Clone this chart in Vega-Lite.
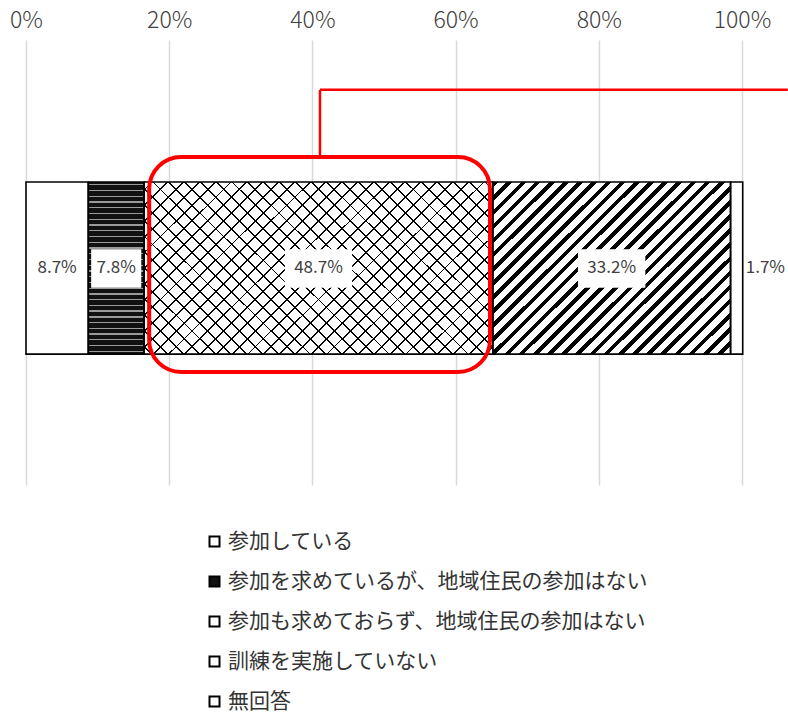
{
  "$schema": "https://vega.github.io/schema/vega-lite/v6.json",
  "width": 716,
  "height": 445,
  "autosize": {"type": "none"},
  "padding": {"left": 26, "top": 40, "right": 46, "bottom": 227},
  "background": "white",
  "config": {
    "view": {"stroke": null},
    "font": "Noto Sans CJK JP",
    "axisX": {"domain": false, "ticks": false, "grid": true, "gridColor": "#d9d9d9", "gridWidth": 1.5, "labelFontSize": 23, "labelColor": "#404040", "labelPadding": 8, "labelFlush": false, "labelFont": "Noto Sans CJK JP", "labelFontWeight": 300},
    "legend": {"symbolType": "square", "symbolSize": 100, "symbolStrokeColor": "black", "symbolStrokeWidth": 2, "labelFontSize": 21, "labelFont": "Noto Sans CJK JP", "labelColor": "#333333", "labelLimit": 0, "rowPadding": 18, "labelOffset": 3, "padding": 0}
  },
  "data": {"values": [
    {"cat": "参加している", "value": 8.7, "order": 1},
    {"cat": "参加を求めているが、地域住民の参加はない", "value": 7.8, "order": 2},
    {"cat": "参加も求めておらず、地域住民の参加はない", "value": 48.7, "order": 3},
    {"cat": "訓練を実施していない", "value": 33.2, "order": 4},
    {"cat": "無回答", "value": 1.7, "order": 5}
  ]},
  "transform": [
    {"window": [{"op": "sum", "field": "value", "as": "cum"}], "sort": [{"field": "order"}], "frame": [null, 0]},
    {"calculate": "datum.cum - datum.value", "as": "start"},
    {"calculate": "datum.cum - datum.value / 2", "as": "mid"},
    {"calculate": "datum.value < 10 ? 3.5 : 4.7", "as": "hw"},
    {"calculate": "datum.mid - datum.hw", "as": "bx1"},
    {"calculate": "datum.mid + datum.hw", "as": "bx2"},
    {"calculate": "format(datum.value, '.1f') + '%'", "as": "label"}
  ],
  "layer": [
    {
      "mark": {"type": "rect"},
      "encoding": {
        "x": {"field": "start", "type": "quantitative", "title": null, "scale": {"domain": [0, 100], "nice": false}, "axis": {"orient": "top", "values": [0, 20, 40, 60, 80, 100], "labelExpr": "datum.value + '%'"}},
        "x2": {"field": "cum"},
        "y": {"datum": 31.9, "type": "quantitative", "scale": {"domain": [0, 100], "reverse": true}, "axis": null},
        "y2": {"datum": 70.6},
        "color": {"field": "cat", "type": "nominal", "sort": {"field": "order"},
          "scale": {"domain": ["参加している", "参加を求めているが、地域住民の参加はない", "参加も求めておらず、地域住民の参加はない", "訓練を実施していない", "無回答"], "range": ["#ffffff", "#111111", "#ffffff", "#ffffff", "#ffffff"]},
          "legend": {"orient": "none", "legendX": 178, "legendY": 491, "direction": "vertical", "title": null}}
      }
    },
    {
      "transform": [{"filter": "datum.order == 2"}],
      "mark": {"type": "rect", "fill": {"gradient": "linear", "x1": 0, "y1": 0, "x2": 0, "y2": 1, "stops": [
        {"offset": 0, "color": "transparent"},
        {"offset": 0.013, "color": "transparent"}, {"offset": 0.013, "color": "#9a9a9a"}, {"offset": 0.0205, "color": "#9a9a9a"}, {"offset": 0.0205, "color": "transparent"},
        {"offset": 0.0463, "color": "transparent"}, {"offset": 0.0463, "color": "#9a9a9a"}, {"offset": 0.0538, "color": "#9a9a9a"}, {"offset": 0.0538, "color": "transparent"},
        {"offset": 0.0797, "color": "transparent"}, {"offset": 0.0797, "color": "#9a9a9a"}, {"offset": 0.0872, "color": "#9a9a9a"}, {"offset": 0.0872, "color": "transparent"},
        {"offset": 0.113, "color": "transparent"}, {"offset": 0.113, "color": "#9a9a9a"}, {"offset": 0.1205, "color": "#9a9a9a"}, {"offset": 0.1205, "color": "transparent"},
        {"offset": 0.1463, "color": "transparent"}, {"offset": 0.1463, "color": "#9a9a9a"}, {"offset": 0.1538, "color": "#9a9a9a"}, {"offset": 0.1538, "color": "transparent"},
        {"offset": 0.1797, "color": "transparent"}, {"offset": 0.1797, "color": "#9a9a9a"}, {"offset": 0.1872, "color": "#9a9a9a"}, {"offset": 0.1872, "color": "transparent"},
        {"offset": 0.213, "color": "transparent"}, {"offset": 0.213, "color": "#9a9a9a"}, {"offset": 0.2205, "color": "#9a9a9a"}, {"offset": 0.2205, "color": "transparent"},
        {"offset": 0.2463, "color": "transparent"}, {"offset": 0.2463, "color": "#9a9a9a"}, {"offset": 0.2538, "color": "#9a9a9a"}, {"offset": 0.2538, "color": "transparent"},
        {"offset": 0.2797, "color": "transparent"}, {"offset": 0.2797, "color": "#9a9a9a"}, {"offset": 0.2872, "color": "#9a9a9a"}, {"offset": 0.2872, "color": "transparent"},
        {"offset": 0.313, "color": "transparent"}, {"offset": 0.313, "color": "#9a9a9a"}, {"offset": 0.3205, "color": "#9a9a9a"}, {"offset": 0.3205, "color": "transparent"},
        {"offset": 0.3463, "color": "transparent"}, {"offset": 0.3463, "color": "#9a9a9a"}, {"offset": 0.3538, "color": "#9a9a9a"}, {"offset": 0.3538, "color": "transparent"},
        {"offset": 0.3797, "color": "transparent"}, {"offset": 0.3797, "color": "#9a9a9a"}, {"offset": 0.3872, "color": "#9a9a9a"}, {"offset": 0.3872, "color": "transparent"},
        {"offset": 0.413, "color": "transparent"}, {"offset": 0.413, "color": "#9a9a9a"}, {"offset": 0.4205, "color": "#9a9a9a"}, {"offset": 0.4205, "color": "transparent"},
        {"offset": 0.4463, "color": "transparent"}, {"offset": 0.4463, "color": "#9a9a9a"}, {"offset": 0.4538, "color": "#9a9a9a"}, {"offset": 0.4538, "color": "transparent"},
        {"offset": 0.4797, "color": "transparent"}, {"offset": 0.4797, "color": "#9a9a9a"}, {"offset": 0.4872, "color": "#9a9a9a"}, {"offset": 0.4872, "color": "transparent"},
        {"offset": 0.513, "color": "transparent"}, {"offset": 0.513, "color": "#9a9a9a"}, {"offset": 0.5205, "color": "#9a9a9a"}, {"offset": 0.5205, "color": "transparent"},
        {"offset": 0.5463, "color": "transparent"}, {"offset": 0.5463, "color": "#9a9a9a"}, {"offset": 0.5538, "color": "#9a9a9a"}, {"offset": 0.5538, "color": "transparent"},
        {"offset": 0.5797, "color": "transparent"}, {"offset": 0.5797, "color": "#9a9a9a"}, {"offset": 0.5872, "color": "#9a9a9a"}, {"offset": 0.5872, "color": "transparent"},
        {"offset": 0.613, "color": "transparent"}, {"offset": 0.613, "color": "#9a9a9a"}, {"offset": 0.6205, "color": "#9a9a9a"}, {"offset": 0.6205, "color": "transparent"},
        {"offset": 0.6463, "color": "transparent"}, {"offset": 0.6463, "color": "#9a9a9a"}, {"offset": 0.6538, "color": "#9a9a9a"}, {"offset": 0.6538, "color": "transparent"},
        {"offset": 0.6797, "color": "transparent"}, {"offset": 0.6797, "color": "#9a9a9a"}, {"offset": 0.6872, "color": "#9a9a9a"}, {"offset": 0.6872, "color": "transparent"},
        {"offset": 0.713, "color": "transparent"}, {"offset": 0.713, "color": "#9a9a9a"}, {"offset": 0.7205, "color": "#9a9a9a"}, {"offset": 0.7205, "color": "transparent"},
        {"offset": 0.7463, "color": "transparent"}, {"offset": 0.7463, "color": "#9a9a9a"}, {"offset": 0.7538, "color": "#9a9a9a"}, {"offset": 0.7538, "color": "transparent"},
        {"offset": 0.7797, "color": "transparent"}, {"offset": 0.7797, "color": "#9a9a9a"}, {"offset": 0.7872, "color": "#9a9a9a"}, {"offset": 0.7872, "color": "transparent"},
        {"offset": 0.813, "color": "transparent"}, {"offset": 0.813, "color": "#9a9a9a"}, {"offset": 0.8205, "color": "#9a9a9a"}, {"offset": 0.8205, "color": "transparent"},
        {"offset": 0.8463, "color": "transparent"}, {"offset": 0.8463, "color": "#9a9a9a"}, {"offset": 0.8538, "color": "#9a9a9a"}, {"offset": 0.8538, "color": "transparent"},
        {"offset": 0.8797, "color": "transparent"}, {"offset": 0.8797, "color": "#9a9a9a"}, {"offset": 0.8872, "color": "#9a9a9a"}, {"offset": 0.8872, "color": "transparent"},
        {"offset": 0.913, "color": "transparent"}, {"offset": 0.913, "color": "#9a9a9a"}, {"offset": 0.9205, "color": "#9a9a9a"}, {"offset": 0.9205, "color": "transparent"},
        {"offset": 0.9463, "color": "transparent"}, {"offset": 0.9463, "color": "#9a9a9a"}, {"offset": 0.9538, "color": "#9a9a9a"}, {"offset": 0.9538, "color": "transparent"},
        {"offset": 0.9797, "color": "transparent"}, {"offset": 0.9797, "color": "#9a9a9a"}, {"offset": 0.9872, "color": "#9a9a9a"}, {"offset": 0.9872, "color": "transparent"},
        {"offset": 1, "color": "transparent"}
      ]}},
      "encoding": {
        "x": {"field": "start", "type": "quantitative", "title": null},
        "x2": {"field": "cum"},
        "y": {"datum": 31.9, "type": "quantitative", "axis": null},
        "y2": {"datum": 70.6}
      }
    },
    {
      "transform": [{"filter": "datum.order == 4"}],
      "mark": {"type": "rect", "fill": {"gradient": "linear", "x1": 0, "y1": 0, "x2": 1.1295, "y2": 0.8221, "stops": [
        {"offset": 0, "color": "#000"}, {"offset": 0.0138, "color": "#000"}, {"offset": 0.0138, "color": "#fff"}, {"offset": 0.0345, "color": "#fff"},
        {"offset": 0.0345, "color": "#000"}, {"offset": 0.0483, "color": "#000"}, {"offset": 0.0483, "color": "#fff"}, {"offset": 0.069, "color": "#fff"},
        {"offset": 0.069, "color": "#000"}, {"offset": 0.0828, "color": "#000"}, {"offset": 0.0828, "color": "#fff"}, {"offset": 0.1034, "color": "#fff"},
        {"offset": 0.1034, "color": "#000"}, {"offset": 0.1172, "color": "#000"}, {"offset": 0.1172, "color": "#fff"}, {"offset": 0.1379, "color": "#fff"},
        {"offset": 0.1379, "color": "#000"}, {"offset": 0.1517, "color": "#000"}, {"offset": 0.1517, "color": "#fff"}, {"offset": 0.1724, "color": "#fff"},
        {"offset": 0.1724, "color": "#000"}, {"offset": 0.1862, "color": "#000"}, {"offset": 0.1862, "color": "#fff"}, {"offset": 0.2069, "color": "#fff"},
        {"offset": 0.2069, "color": "#000"}, {"offset": 0.2207, "color": "#000"}, {"offset": 0.2207, "color": "#fff"}, {"offset": 0.2414, "color": "#fff"},
        {"offset": 0.2414, "color": "#000"}, {"offset": 0.2552, "color": "#000"}, {"offset": 0.2552, "color": "#fff"}, {"offset": 0.2759, "color": "#fff"},
        {"offset": 0.2759, "color": "#000"}, {"offset": 0.2897, "color": "#000"}, {"offset": 0.2897, "color": "#fff"}, {"offset": 0.3103, "color": "#fff"},
        {"offset": 0.3103, "color": "#000"}, {"offset": 0.3241, "color": "#000"}, {"offset": 0.3241, "color": "#fff"}, {"offset": 0.3448, "color": "#fff"},
        {"offset": 0.3448, "color": "#000"}, {"offset": 0.3586, "color": "#000"}, {"offset": 0.3586, "color": "#fff"}, {"offset": 0.3793, "color": "#fff"},
        {"offset": 0.3793, "color": "#000"}, {"offset": 0.3931, "color": "#000"}, {"offset": 0.3931, "color": "#fff"}, {"offset": 0.4138, "color": "#fff"},
        {"offset": 0.4138, "color": "#000"}, {"offset": 0.4276, "color": "#000"}, {"offset": 0.4276, "color": "#fff"}, {"offset": 0.4483, "color": "#fff"},
        {"offset": 0.4483, "color": "#000"}, {"offset": 0.4621, "color": "#000"}, {"offset": 0.4621, "color": "#fff"}, {"offset": 0.4828, "color": "#fff"},
        {"offset": 0.4828, "color": "#000"}, {"offset": 0.4966, "color": "#000"}, {"offset": 0.4966, "color": "#fff"}, {"offset": 0.5172, "color": "#fff"},
        {"offset": 0.5172, "color": "#000"}, {"offset": 0.531, "color": "#000"}, {"offset": 0.531, "color": "#fff"}, {"offset": 0.5517, "color": "#fff"},
        {"offset": 0.5517, "color": "#000"}, {"offset": 0.5655, "color": "#000"}, {"offset": 0.5655, "color": "#fff"}, {"offset": 0.5862, "color": "#fff"},
        {"offset": 0.5862, "color": "#000"}, {"offset": 0.6, "color": "#000"}, {"offset": 0.6, "color": "#fff"}, {"offset": 0.6207, "color": "#fff"},
        {"offset": 0.6207, "color": "#000"}, {"offset": 0.6345, "color": "#000"}, {"offset": 0.6345, "color": "#fff"}, {"offset": 0.6552, "color": "#fff"},
        {"offset": 0.6552, "color": "#000"}, {"offset": 0.669, "color": "#000"}, {"offset": 0.669, "color": "#fff"}, {"offset": 0.6897, "color": "#fff"},
        {"offset": 0.6897, "color": "#000"}, {"offset": 0.7035, "color": "#000"}, {"offset": 0.7035, "color": "#fff"}, {"offset": 0.7241, "color": "#fff"},
        {"offset": 0.7241, "color": "#000"}, {"offset": 0.7379, "color": "#000"}, {"offset": 0.7379, "color": "#fff"}, {"offset": 0.7586, "color": "#fff"},
        {"offset": 0.7586, "color": "#000"}, {"offset": 0.7724, "color": "#000"}, {"offset": 0.7724, "color": "#fff"}, {"offset": 0.7931, "color": "#fff"},
        {"offset": 0.7931, "color": "#000"}, {"offset": 0.8069, "color": "#000"}, {"offset": 0.8069, "color": "#fff"}, {"offset": 0.8276, "color": "#fff"},
        {"offset": 0.8276, "color": "#000"}, {"offset": 0.8414, "color": "#000"}, {"offset": 0.8414, "color": "#fff"}, {"offset": 0.8621, "color": "#fff"},
        {"offset": 0.8621, "color": "#000"}, {"offset": 0.8759, "color": "#000"}, {"offset": 0.8759, "color": "#fff"}, {"offset": 0.8966, "color": "#fff"},
        {"offset": 0.8966, "color": "#000"}, {"offset": 0.9104, "color": "#000"}, {"offset": 0.9104, "color": "#fff"}, {"offset": 0.931, "color": "#fff"},
        {"offset": 0.931, "color": "#000"}, {"offset": 0.9448, "color": "#000"}, {"offset": 0.9448, "color": "#fff"}, {"offset": 0.9655, "color": "#fff"},
        {"offset": 0.9655, "color": "#000"}, {"offset": 0.9793, "color": "#000"}, {"offset": 0.9793, "color": "#fff"}, {"offset": 1, "color": "#fff"}
      ]}},
      "encoding": {
        "x": {"field": "start", "type": "quantitative", "title": null},
        "x2": {"field": "cum"},
        "y": {"datum": 31.9, "type": "quantitative", "axis": null},
        "y2": {"datum": 70.6}
      }
    },
    {
      "transform": [{"filter": "datum.order == 3"}],
      "mark": {"type": "rect", "fill": {"gradient": "linear", "x1": 0, "y1": 0, "x2": 1.2006, "y2": 0.5957, "stops": [
        {"offset": 0, "color": "transparent"},
        {"offset": 0.0134, "color": "transparent"}, {"offset": 0.0134, "color": "#000"}, {"offset": 0.017, "color": "#000"}, {"offset": 0.017, "color": "transparent"},
        {"offset": 0.0437, "color": "transparent"}, {"offset": 0.0437, "color": "#000"}, {"offset": 0.0473, "color": "#000"}, {"offset": 0.0473, "color": "transparent"},
        {"offset": 0.074, "color": "transparent"}, {"offset": 0.074, "color": "#000"}, {"offset": 0.0776, "color": "#000"}, {"offset": 0.0776, "color": "transparent"},
        {"offset": 0.1043, "color": "transparent"}, {"offset": 0.1043, "color": "#000"}, {"offset": 0.1079, "color": "#000"}, {"offset": 0.1079, "color": "transparent"},
        {"offset": 0.1346, "color": "transparent"}, {"offset": 0.1346, "color": "#000"}, {"offset": 0.1382, "color": "#000"}, {"offset": 0.1382, "color": "transparent"},
        {"offset": 0.1649, "color": "transparent"}, {"offset": 0.1649, "color": "#000"}, {"offset": 0.1685, "color": "#000"}, {"offset": 0.1685, "color": "transparent"},
        {"offset": 0.1952, "color": "transparent"}, {"offset": 0.1952, "color": "#000"}, {"offset": 0.1988, "color": "#000"}, {"offset": 0.1988, "color": "transparent"},
        {"offset": 0.2255, "color": "transparent"}, {"offset": 0.2255, "color": "#000"}, {"offset": 0.2291, "color": "#000"}, {"offset": 0.2291, "color": "transparent"},
        {"offset": 0.2558, "color": "transparent"}, {"offset": 0.2558, "color": "#000"}, {"offset": 0.2594, "color": "#000"}, {"offset": 0.2594, "color": "transparent"},
        {"offset": 0.2861, "color": "transparent"}, {"offset": 0.2861, "color": "#000"}, {"offset": 0.2897, "color": "#000"}, {"offset": 0.2897, "color": "transparent"},
        {"offset": 0.3164, "color": "transparent"}, {"offset": 0.3164, "color": "#000"}, {"offset": 0.32, "color": "#000"}, {"offset": 0.32, "color": "transparent"},
        {"offset": 0.3467, "color": "transparent"}, {"offset": 0.3467, "color": "#000"}, {"offset": 0.3503, "color": "#000"}, {"offset": 0.3503, "color": "transparent"},
        {"offset": 0.377, "color": "transparent"}, {"offset": 0.377, "color": "#000"}, {"offset": 0.3806, "color": "#000"}, {"offset": 0.3806, "color": "transparent"},
        {"offset": 0.4073, "color": "transparent"}, {"offset": 0.4073, "color": "#000"}, {"offset": 0.4109, "color": "#000"}, {"offset": 0.4109, "color": "transparent"},
        {"offset": 0.4376, "color": "transparent"}, {"offset": 0.4376, "color": "#000"}, {"offset": 0.4412, "color": "#000"}, {"offset": 0.4412, "color": "transparent"},
        {"offset": 0.4679, "color": "transparent"}, {"offset": 0.4679, "color": "#000"}, {"offset": 0.4715, "color": "#000"}, {"offset": 0.4715, "color": "transparent"},
        {"offset": 0.4982, "color": "transparent"}, {"offset": 0.4982, "color": "#000"}, {"offset": 0.5018, "color": "#000"}, {"offset": 0.5018, "color": "transparent"},
        {"offset": 0.5285, "color": "transparent"}, {"offset": 0.5285, "color": "#000"}, {"offset": 0.5321, "color": "#000"}, {"offset": 0.5321, "color": "transparent"},
        {"offset": 0.5588, "color": "transparent"}, {"offset": 0.5588, "color": "#000"}, {"offset": 0.5624, "color": "#000"}, {"offset": 0.5624, "color": "transparent"},
        {"offset": 0.5891, "color": "transparent"}, {"offset": 0.5891, "color": "#000"}, {"offset": 0.5927, "color": "#000"}, {"offset": 0.5927, "color": "transparent"},
        {"offset": 0.6194, "color": "transparent"}, {"offset": 0.6194, "color": "#000"}, {"offset": 0.623, "color": "#000"}, {"offset": 0.623, "color": "transparent"},
        {"offset": 0.6497, "color": "transparent"}, {"offset": 0.6497, "color": "#000"}, {"offset": 0.6533, "color": "#000"}, {"offset": 0.6533, "color": "transparent"},
        {"offset": 0.68, "color": "transparent"}, {"offset": 0.68, "color": "#000"}, {"offset": 0.6836, "color": "#000"}, {"offset": 0.6836, "color": "transparent"},
        {"offset": 0.7103, "color": "transparent"}, {"offset": 0.7103, "color": "#000"}, {"offset": 0.7139, "color": "#000"}, {"offset": 0.7139, "color": "transparent"},
        {"offset": 0.7406, "color": "transparent"}, {"offset": 0.7406, "color": "#000"}, {"offset": 0.7442, "color": "#000"}, {"offset": 0.7442, "color": "transparent"},
        {"offset": 0.7709, "color": "transparent"}, {"offset": 0.7709, "color": "#000"}, {"offset": 0.7745, "color": "#000"}, {"offset": 0.7745, "color": "transparent"},
        {"offset": 0.8012, "color": "transparent"}, {"offset": 0.8012, "color": "#000"}, {"offset": 0.8048, "color": "#000"}, {"offset": 0.8048, "color": "transparent"},
        {"offset": 0.8315, "color": "transparent"}, {"offset": 0.8315, "color": "#000"}, {"offset": 0.8351, "color": "#000"}, {"offset": 0.8351, "color": "transparent"},
        {"offset": 0.8618, "color": "transparent"}, {"offset": 0.8618, "color": "#000"}, {"offset": 0.8654, "color": "#000"}, {"offset": 0.8654, "color": "transparent"},
        {"offset": 0.8921, "color": "transparent"}, {"offset": 0.8921, "color": "#000"}, {"offset": 0.8957, "color": "#000"}, {"offset": 0.8957, "color": "transparent"},
        {"offset": 0.9224, "color": "transparent"}, {"offset": 0.9224, "color": "#000"}, {"offset": 0.926, "color": "#000"}, {"offset": 0.926, "color": "transparent"},
        {"offset": 0.9527, "color": "transparent"}, {"offset": 0.9527, "color": "#000"}, {"offset": 0.9563, "color": "#000"}, {"offset": 0.9563, "color": "transparent"},
        {"offset": 0.983, "color": "transparent"}, {"offset": 0.983, "color": "#000"}, {"offset": 0.9866, "color": "#000"}, {"offset": 0.9866, "color": "transparent"},
        {"offset": 1, "color": "transparent"}
      ]}},
      "encoding": {
        "x": {"field": "start", "type": "quantitative", "title": null},
        "x2": {"field": "cum"},
        "y": {"datum": 31.9, "type": "quantitative", "axis": null},
        "y2": {"datum": 70.6}
      }
    },
    {
      "transform": [{"filter": "datum.order == 3"}],
      "mark": {"type": "rect", "fill": {"gradient": "linear", "x1": 0, "y1": 1, "x2": 1.2006, "y2": 0.4043, "stops": [
        {"offset": 0, "color": "transparent"},
        {"offset": 0.0134, "color": "transparent"}, {"offset": 0.0134, "color": "#000"}, {"offset": 0.017, "color": "#000"}, {"offset": 0.017, "color": "transparent"},
        {"offset": 0.0437, "color": "transparent"}, {"offset": 0.0437, "color": "#000"}, {"offset": 0.0473, "color": "#000"}, {"offset": 0.0473, "color": "transparent"},
        {"offset": 0.074, "color": "transparent"}, {"offset": 0.074, "color": "#000"}, {"offset": 0.0776, "color": "#000"}, {"offset": 0.0776, "color": "transparent"},
        {"offset": 0.1043, "color": "transparent"}, {"offset": 0.1043, "color": "#000"}, {"offset": 0.1079, "color": "#000"}, {"offset": 0.1079, "color": "transparent"},
        {"offset": 0.1346, "color": "transparent"}, {"offset": 0.1346, "color": "#000"}, {"offset": 0.1382, "color": "#000"}, {"offset": 0.1382, "color": "transparent"},
        {"offset": 0.1649, "color": "transparent"}, {"offset": 0.1649, "color": "#000"}, {"offset": 0.1685, "color": "#000"}, {"offset": 0.1685, "color": "transparent"},
        {"offset": 0.1952, "color": "transparent"}, {"offset": 0.1952, "color": "#000"}, {"offset": 0.1988, "color": "#000"}, {"offset": 0.1988, "color": "transparent"},
        {"offset": 0.2255, "color": "transparent"}, {"offset": 0.2255, "color": "#000"}, {"offset": 0.2291, "color": "#000"}, {"offset": 0.2291, "color": "transparent"},
        {"offset": 0.2558, "color": "transparent"}, {"offset": 0.2558, "color": "#000"}, {"offset": 0.2594, "color": "#000"}, {"offset": 0.2594, "color": "transparent"},
        {"offset": 0.2861, "color": "transparent"}, {"offset": 0.2861, "color": "#000"}, {"offset": 0.2897, "color": "#000"}, {"offset": 0.2897, "color": "transparent"},
        {"offset": 0.3164, "color": "transparent"}, {"offset": 0.3164, "color": "#000"}, {"offset": 0.32, "color": "#000"}, {"offset": 0.32, "color": "transparent"},
        {"offset": 0.3467, "color": "transparent"}, {"offset": 0.3467, "color": "#000"}, {"offset": 0.3503, "color": "#000"}, {"offset": 0.3503, "color": "transparent"},
        {"offset": 0.377, "color": "transparent"}, {"offset": 0.377, "color": "#000"}, {"offset": 0.3806, "color": "#000"}, {"offset": 0.3806, "color": "transparent"},
        {"offset": 0.4073, "color": "transparent"}, {"offset": 0.4073, "color": "#000"}, {"offset": 0.4109, "color": "#000"}, {"offset": 0.4109, "color": "transparent"},
        {"offset": 0.4376, "color": "transparent"}, {"offset": 0.4376, "color": "#000"}, {"offset": 0.4412, "color": "#000"}, {"offset": 0.4412, "color": "transparent"},
        {"offset": 0.4679, "color": "transparent"}, {"offset": 0.4679, "color": "#000"}, {"offset": 0.4715, "color": "#000"}, {"offset": 0.4715, "color": "transparent"},
        {"offset": 0.4982, "color": "transparent"}, {"offset": 0.4982, "color": "#000"}, {"offset": 0.5018, "color": "#000"}, {"offset": 0.5018, "color": "transparent"},
        {"offset": 0.5285, "color": "transparent"}, {"offset": 0.5285, "color": "#000"}, {"offset": 0.5321, "color": "#000"}, {"offset": 0.5321, "color": "transparent"},
        {"offset": 0.5588, "color": "transparent"}, {"offset": 0.5588, "color": "#000"}, {"offset": 0.5624, "color": "#000"}, {"offset": 0.5624, "color": "transparent"},
        {"offset": 0.5891, "color": "transparent"}, {"offset": 0.5891, "color": "#000"}, {"offset": 0.5927, "color": "#000"}, {"offset": 0.5927, "color": "transparent"},
        {"offset": 0.6194, "color": "transparent"}, {"offset": 0.6194, "color": "#000"}, {"offset": 0.623, "color": "#000"}, {"offset": 0.623, "color": "transparent"},
        {"offset": 0.6497, "color": "transparent"}, {"offset": 0.6497, "color": "#000"}, {"offset": 0.6533, "color": "#000"}, {"offset": 0.6533, "color": "transparent"},
        {"offset": 0.68, "color": "transparent"}, {"offset": 0.68, "color": "#000"}, {"offset": 0.6836, "color": "#000"}, {"offset": 0.6836, "color": "transparent"},
        {"offset": 0.7103, "color": "transparent"}, {"offset": 0.7103, "color": "#000"}, {"offset": 0.7139, "color": "#000"}, {"offset": 0.7139, "color": "transparent"},
        {"offset": 0.7406, "color": "transparent"}, {"offset": 0.7406, "color": "#000"}, {"offset": 0.7442, "color": "#000"}, {"offset": 0.7442, "color": "transparent"},
        {"offset": 0.7709, "color": "transparent"}, {"offset": 0.7709, "color": "#000"}, {"offset": 0.7745, "color": "#000"}, {"offset": 0.7745, "color": "transparent"},
        {"offset": 0.8012, "color": "transparent"}, {"offset": 0.8012, "color": "#000"}, {"offset": 0.8048, "color": "#000"}, {"offset": 0.8048, "color": "transparent"},
        {"offset": 0.8315, "color": "transparent"}, {"offset": 0.8315, "color": "#000"}, {"offset": 0.8351, "color": "#000"}, {"offset": 0.8351, "color": "transparent"},
        {"offset": 0.8618, "color": "transparent"}, {"offset": 0.8618, "color": "#000"}, {"offset": 0.8654, "color": "#000"}, {"offset": 0.8654, "color": "transparent"},
        {"offset": 0.8921, "color": "transparent"}, {"offset": 0.8921, "color": "#000"}, {"offset": 0.8957, "color": "#000"}, {"offset": 0.8957, "color": "transparent"},
        {"offset": 0.9224, "color": "transparent"}, {"offset": 0.9224, "color": "#000"}, {"offset": 0.926, "color": "#000"}, {"offset": 0.926, "color": "transparent"},
        {"offset": 0.9527, "color": "transparent"}, {"offset": 0.9527, "color": "#000"}, {"offset": 0.9563, "color": "#000"}, {"offset": 0.9563, "color": "transparent"},
        {"offset": 0.983, "color": "transparent"}, {"offset": 0.983, "color": "#000"}, {"offset": 0.9866, "color": "#000"}, {"offset": 0.9866, "color": "transparent"},
        {"offset": 1, "color": "transparent"}
      ]}},
      "encoding": {
        "x": {"field": "start", "type": "quantitative", "title": null},
        "x2": {"field": "cum"},
        "y": {"datum": 31.9, "type": "quantitative", "axis": null},
        "y2": {"datum": 70.6}
      }
    },
    {
      "mark": {"type": "rect", "fill": "transparent", "stroke": "black", "strokeWidth": 1.6},
      "encoding": {
        "x": {"field": "start", "type": "quantitative", "title": null},
        "x2": {"field": "cum"},
        "y": {"datum": 31.9, "type": "quantitative", "axis": null},
        "y2": {"datum": 70.6}
      }
    },
    {
      "transform": [{"filter": "datum.value >= 5"}],
      "mark": {"type": "rect", "fill": "white"},
      "encoding": {
        "x": {"field": "bx1", "type": "quantitative", "title": null},
        "x2": {"field": "bx2"},
        "y": {"datum": 47.0, "type": "quantitative", "axis": null},
        "y2": {"datum": 55.7}
      }
    },
    {
      "transform": [{"filter": "datum.value >= 5"}],
      "mark": {"type": "text", "fontSize": 17, "color": "#404040", "baseline": "middle", "align": "center"},
      "encoding": {
        "x": {"field": "mid", "type": "quantitative", "title": null},
        "y": {"datum": 51.3, "type": "quantitative", "axis": null},
        "text": {"field": "label"}
      }
    },
    {
      "transform": [{"filter": "datum.value < 5"}],
      "mark": {"type": "text", "fontSize": 17, "color": "#404040", "baseline": "middle", "align": "left", "dx": 3},
      "encoding": {
        "x": {"field": "cum", "type": "quantitative", "title": null},
        "y": {"datum": 51.3, "type": "quantitative", "axis": null},
        "text": {"field": "label"}
      }
    },
    {
      "data": {"values": [{}]},
      "mark": {"type": "rect", "fill": "transparent", "stroke": "#ff0000", "strokeWidth": 4, "cornerRadius": 32},
      "encoding": {
        "x": {"datum": 17.2, "type": "quantitative", "title": null},
        "x2": {"datum": 64.8},
        "y": {"datum": 26.3, "type": "quantitative", "axis": null},
        "y2": {"datum": 74.6}
      }
    },
    {
      "data": {"values": [{}]},
      "mark": {"type": "rule", "stroke": "#ff0000", "strokeWidth": 2.5},
      "encoding": {
        "x": {"datum": 41.06, "type": "quantitative", "title": null},
        "y": {"datum": 11.2, "type": "quantitative", "axis": null},
        "y2": {"datum": 26.3}
      }
    },
    {
      "data": {"values": [{}]},
      "mark": {"type": "rule", "stroke": "#ff0000", "strokeWidth": 2.5},
      "encoding": {
        "x": {"datum": 41.06, "type": "quantitative", "title": null},
        "x2": {"datum": 106.4},
        "y": {"datum": 11.2, "type": "quantitative", "axis": null}
      }
    }
  ]
}
